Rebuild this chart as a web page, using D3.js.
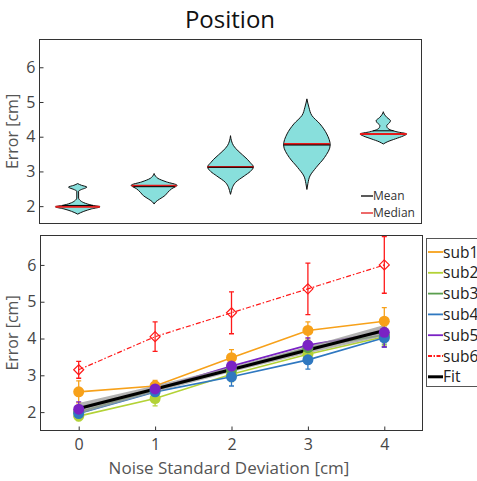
<!DOCTYPE html>
<html>
<head>
<meta charset="utf-8">
<script src="https://cdn.jsdelivr.net/npm/d3@7"></script>
<style>
  body { margin: 0; background: #fff; }
  text { font-family: "Open Sans", sans-serif; }
</style>
</head>
<body>
<svg id="chart" width="477" height="481"></svg>
<script>
// categories (noise std, cm)
const noise = [0, 1, 2, 3, 4];
const yTicks = [2, 3, 4, 5, 6];

// violin profiles: [error value, half width in x units]
const violin0 = [[1.77,0],[1.85,0.08],[1.92,0.18],[1.98,0.29],[2.03,0.18],[2.1,0.08],[2.17,0.03],[2.23,0.012],[2.43,0.012],[2.47,0.04],[2.55,0.12],[2.6,0.05],[2.65,0]];
const violin1 = [[2.06,0],[2.12,0.02],[2.2,0.07],[2.3,0.14],[2.4,0.18],[2.5,0.23],[2.6,0.30],[2.7,0.16],[2.8,0.05],[2.86,0.02],[2.94,0]];
const violin2 = [[2.34,0],[2.45,0.013],[2.53,0.024],[2.68,0.065],[2.87,0.18],[3.0,0.26],[3.13,0.30],[3.25,0.26],[3.35,0.22],[3.59,0.1],[3.74,0.04],[3.88,0.013],[4.03,0]];
const violin3 = [[2.48,0],[2.65,0.013],[2.87,0.04],[3.11,0.12],[3.4,0.23],[3.76,0.305],[4.08,0.26],[4.37,0.17],[4.61,0.065],[4.85,0.026],[5.09,0]];
const violin4 = [[3.79,0],[3.85,0.05],[3.94,0.16],[4.02,0.26],[4.08,0.305],[4.14,0.18],[4.2,0.09],[4.27,0.05],[4.32,0.045],[4.4,0.08],[4.46,0.094],[4.55,0.05],[4.65,0.013],[4.72,0]];
const violins = [violin0, violin1, violin2, violin3, violin4];
const means = [2.02, 2.56, 3.12, 3.76, 4.17];
const medians = [1.98, 2.59, 3.13, 3.79, 4.08];

// per subject mean error and error bar half length
const subNames = ["sub1", "sub2", "sub3", "sub4", "sub5", "sub6"];
const sub1 = [2.55, 2.71, 3.48, 4.22, 4.47];
const sub2 = [1.89, 2.37, 3.03, 3.57, 4.05];
const sub3 = [2.0, 2.6, 3.15, 3.75, 4.1];
const sub4 = [1.96, 2.55, 2.96, 3.42, 4.02];
const sub5 = [2.08, 2.63, 3.25, 3.82, 4.17];
const sub6 = [3.15, 4.05, 4.7, 5.35, 6.0];
const err1 = [0.3, 0.15, 0.22, 0.23, 0.37];
const err2 = [0.12, 0.2, 0.2, 0.2, 0.25];
const err3 = [0.12, 0.12, 0.2, 0.2, 0.25];
const err4 = [0.15, 0.2, 0.25, 0.25, 0.25];
const err5 = [0.2, 0.2, 0.2, 0.2, 0.4];
const err6 = [0.23, 0.4, 0.57, 0.7, 0.77];
const fitVals = [2.1, 2.63, 3.16, 3.69, 4.22];
const fitLo = [1.95, 2.54, 3.09, 3.6, 4.07];
const fitHi = [2.25, 2.72, 3.23, 3.78, 4.37];

const colors = ["#f7a11a", "#b3d236", "#5a9e4e", "#2f78c0", "#7a22c4", "#ff1a1a"];
const subs = [sub1, sub2, sub3, sub4, sub5, sub6];
const errs = [err1, err2, err3, err4, err5, err6];

const svg = d3.select("#chart");
const tickCol = "#454545";

svg.append("text").attr("x", 230).attr("y", 28).attr("text-anchor", "middle")
  .attr("font-size", 24).attr("fill", "#111").text("Position");

function panel(top, bottom, left, right) {
  const x = d3.scaleLinear().domain([-0.5, 4.5]).range([left, right]);
  const y = d3.scaleLinear().domain([1.5, 6.8]).range([bottom, top]);
  const g = svg.append("g");
  // y ticks
  const ya = g.append("g").attr("transform", `translate(${left},0)`)
    .call(d3.axisLeft(y).tickValues(yTicks).tickFormat(d3.format("d"))
      .tickSizeInner(-4).tickSizeOuter(0).tickPadding(4));
  ya.select(".domain").remove();
  ya.selectAll("text").attr("font-size", 16).attr("fill", tickCol).attr("font-family", "'Open Sans', sans-serif");
  ya.selectAll("line").attr("stroke", "#333");
  g.append("text").attr("transform", `translate(18,${(top + bottom) / 2}) rotate(-90)`)
    .attr("text-anchor", "middle").attr("font-size", 16).attr("fill", "#555").text("Error [cm]");
  return { x, y, g, top, bottom, left, right };
}

function frame(p) {
  p.g.append("rect").attr("x", p.left).attr("y", p.top)
    .attr("width", p.right - p.left).attr("height", p.bottom - p.top)
    .attr("fill", "none").attr("stroke", "#333").attr("stroke-width", 1);
}

// ---- top: violins
const pt = panel(39.5, 223.5, 39.5, 421.5);
function hwAt(prof, v) {
  for (let k = 1; k < prof.length; k++) {
    if (v <= prof[k][0]) {
      const a = prof[k - 1], b = prof[k];
      return a[1] + (b[1] - a[1]) * (v - a[0]) / (b[0] - a[0]);
    }
  }
  return 0;
}
const unit = pt.x(1) - pt.x(0);
violins.forEach((prof, i) => {
  const cx = pt.x(noise[i]);
  const area = d3.area().curve(d3.curveMonotoneY)
    .y(d => pt.y(d[0])).x0(d => cx - d[1] * unit).x1(d => cx + d[1] * unit);
  pt.g.append("path").attr("d", area(prof)).attr("fill", "#88dfdc")
    .attr("stroke", "#111").attr("stroke-width", 1);
  const hm = hwAt(prof, means[i]) * unit, hd = hwAt(prof, medians[i]) * unit;
  pt.g.append("line").attr("x1", cx - hd).attr("x2", cx + hd)
    .attr("y1", pt.y(medians[i])).attr("y2", pt.y(medians[i]))
    .attr("stroke", "#e41a1a").attr("stroke-width", 2);
  pt.g.append("line").attr("x1", cx - hm).attr("x2", cx + hm)
    .attr("y1", pt.y(means[i])).attr("y2", pt.y(means[i]))
    .attr("stroke", "#000").attr("stroke-width", 1);
});
frame(pt);
[["Mean", "#000", 196], ["Median", "#e41a1a", 213]].forEach(([t, c, yy]) => {
  pt.g.append("line").attr("x1", 361).attr("x2", 373).attr("y1", yy).attr("y2", yy)
    .attr("stroke", c).attr("stroke-width", 1.3);
  pt.g.append("text").attr("x", 373).attr("y", yy + 4.3).attr("font-size", 12)
    .attr("fill", "#333").text(t);
});

// ---- bottom: subjects
const pb = panel(235.5, 430.5, 40.5, 422.5);
const xa = pb.g.append("g").attr("transform", `translate(0,${pb.bottom})`)
  .call(d3.axisBottom(pb.x).tickValues(noise).tickFormat(d3.format("d"))
    .tickSizeInner(-4).tickSizeOuter(0).tickPadding(8));
xa.select(".domain").remove();
xa.selectAll("text").attr("font-size", 16).attr("fill", tickCol).attr("font-family", "'Open Sans', sans-serif");
xa.selectAll("line").attr("stroke", "#333");
svg.append("text").attr("x", 229).attr("y", 474).attr("text-anchor", "middle")
  .attr("font-size", 17).attr("fill", "#555").text("Noise Standard Deviation [cm]");

const clip = svg.append("clipPath").attr("id", "pclip").append("rect")
  .attr("x", pb.left).attr("y", pb.top).attr("width", pb.right - pb.left).attr("height", pb.bottom - pb.top);
const plot = pb.g.append("g").attr("clip-path", "url(#pclip)");
const line = d3.line().x((d, i) => pb.x(noise[i])).y(d => pb.y(d));

// error bars
subs.forEach((s, j) => {
  s.forEach((v, i) => {
    const cx = pb.x(noise[i]), e = errs[j][i];
    const eg = plot.append("g").attr("stroke", colors[j]).attr("stroke-width", 1.3);
    eg.append("line").attr("x1", cx).attr("x2", cx).attr("y1", pb.y(v - e)).attr("y2", pb.y(v + e));
    [v - e, v + e].forEach(w => eg.append("line").attr("x1", cx - 2.5).attr("x2", cx + 2.5)
      .attr("y1", pb.y(w)).attr("y2", pb.y(w)));
  });
});
// subject lines
subs.forEach((s, j) => {
  plot.append("path").attr("d", line(s)).attr("fill", "none").attr("stroke", colors[j])
    .attr("stroke-width", j === 5 ? 1.2 : 1.6).attr("stroke-dasharray", j === 5 ? "5,2,1.5,2" : null);
});
// fit band + line
const band = d3.area().x((d, i) => pb.x(noise[i])).y0((d, i) => pb.y(fitLo[i])).y1((d, i) => pb.y(fitHi[i]));
plot.append("path").attr("d", band(fitVals)).attr("fill", "#999").attr("opacity", 0.75);
plot.append("path").attr("d", line(fitVals)).attr("fill", "none").attr("stroke", "#000").attr("stroke-width", 3);
// markers
subs.forEach((s, j) => {
  s.forEach((v, i) => {
    const cx = pb.x(noise[i]), cy = pb.y(v);
    if (j === 5) {
      plot.append("path").attr("d", `M${cx},${cy - 5}L${cx + 5},${cy}L${cx},${cy + 5}L${cx - 5},${cy}Z`)
        .attr("fill", "none").attr("stroke", colors[j]).attr("stroke-width", 1.2);
    } else {
      plot.append("circle").attr("cx", cx).attr("cy", cy).attr("r", 5.5).attr("fill", colors[j]);
    }
  });
});
frame(pb);

// legend
const lg = svg.append("g");
lg.append("rect").attr("x", 426.5).attr("y", 238.5).attr("width", 60).attr("height", 148)
  .attr("fill", "#fff").attr("stroke", "#555");
subNames.concat(["Fit"]).forEach((n, k) => {
  const yy = 252 + k * 20.8;
  lg.append("line").attr("x1", 428).attr("x2", 443).attr("y1", yy).attr("y2", yy)
    .attr("stroke", k < 6 ? colors[k] : "#000").attr("stroke-width", k < 6 ? 1.8 : 3)
    .attr("stroke-dasharray", k === 5 ? "4,1.5,1.5,1.5" : null);
  lg.append("text").attr("x", 443).attr("y", yy + 5.5).attr("font-size", 15.5).attr("fill", "#222").text(n);
});
</script>
</body>
</html>
